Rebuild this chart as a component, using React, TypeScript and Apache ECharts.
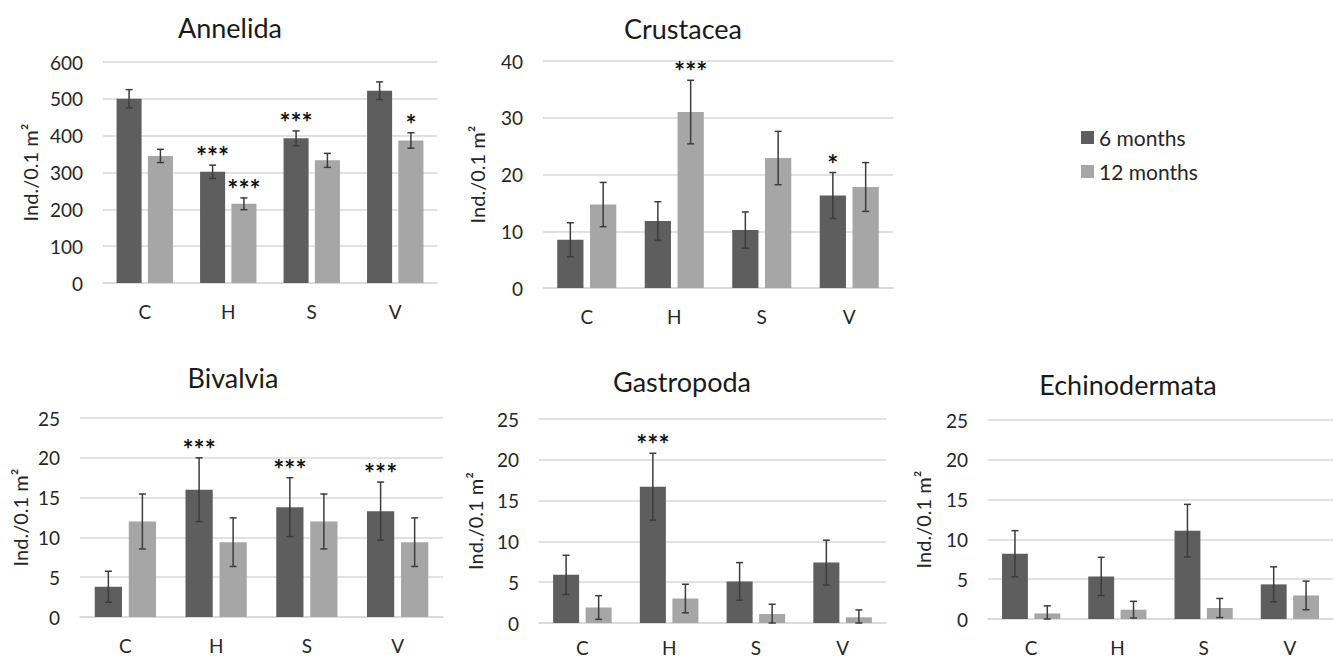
import React, { useEffect, useRef } from "react";
import * as echarts from "echarts";

const categories = ["C", "H", "S", "V"];
const legendNames = ["6 months", "12 months"];

// Annelida
const ann6 = [500, 302, 393, 522];
const ann6Err = [25, 18, 20, 24];
const ann12 = [345, 215, 333, 387];
const ann12Err = [18, 16, 19, 21];
const ann6Stars = ["", "***", "***", ""];
const ann12Stars = ["", "***", "", "*"];

// Crustacea
const cru6 = [8.5, 11.8, 10.2, 16.3];
const cru6Err = [3.0, 3.4, 3.2, 4.05];
const cru12 = [14.7, 31.0, 22.9, 17.8];
const cru12Err = [3.9, 5.6, 4.7, 4.3];
const cru6Stars = ["", "", "", "*"];
const cru12Stars = ["", "***", "", ""];

// Bivalvia
const biv6 = [3.8, 16.0, 13.8, 13.3];
const biv6Err = [1.95, 4.0, 3.7, 3.65];
const biv12 = [12.0, 9.4, 12.0, 9.4];
const biv12Err = [3.45, 3.05, 3.45, 3.05];
const biv6Stars = ["", "***", "***", "***"];
const biv12Stars = ["", "", "", ""];

// Gastropoda
const gas6 = [5.9, 16.7, 5.1, 7.4];
const gas6Err = [2.4, 4.1, 2.3, 2.75];
const gas12 = [1.9, 3.0, 1.1, 0.7];
const gas12Err = [1.45, 1.75, 1.2, 0.9];
const gas6Stars = ["", "***", "", ""];
const gas12Stars = ["", "", "", ""];

// Echinodermata
const ech6 = [8.2, 5.35, 11.1, 4.35];
const ech6Err = [2.9, 2.4, 3.3, 2.2];
const ech12 = [0.7, 1.17, 1.38, 2.96];
const ech12Err = [0.95, 1.05, 1.2, 1.8];
const ech6Stars = ["", "", "", ""];
const ech12Stars = ["", "", "", ""];

const yMax = [600, 40, 25, 25, 25];
const yInterval = [100, 10, 5, 5, 5];
const titles = ["Annelida", "Crustacea", "Bivalvia", "Gastropoda", "Echinodermata"];

const panels = [
  { title: titles[0], v6: ann6, e6: ann6Err, v12: ann12, e12: ann12Err, s6: ann6Stars, s12: ann12Stars },
  { title: titles[1], v6: cru6, e6: cru6Err, v12: cru12, e12: cru12Err, s6: cru6Stars, s12: cru12Stars },
  { title: titles[2], v6: biv6, e6: biv6Err, v12: biv12, e12: biv12Err, s6: biv6Stars, s12: biv12Stars },
  { title: titles[3], v6: gas6, e6: gas6Err, v12: gas12, e12: gas12Err, s6: gas6Stars, s12: gas12Stars },
  { title: titles[4], v6: ech6, e6: ech6Err, v12: ech12, e12: ech12Err, s6: ech6Stars, s12: ech12Stars },
];

// layout (pixels)
const grids = [
  { left: 103, top: 62, width: 334, height: 221 },
  { left: 543, top: 61, width: 350, height: 227 },
  { left: 80, top: 418, width: 363, height: 199 },
  { left: 539, top: 419, width: 347, height: 204 },
  { left: 988, top: 420, width: 345, height: 199 },
];
const titlePos = [
  [230, 27],
  [683, 28],
  [233, 377],
  [682, 381],
  [1128, 384],
];
const nameGaps = [63, 56, 50, 54, 55];
const xLabelMargins = [19, 19, 19, 15, 19];

const FONT = "Lato, 'Open Sans', sans-serif";
const TXT = "#262626";
const DARK = "#5e5e5e";
const LIGHT = "#a6a6a6";
const ERR = "#3c3c3c";
const GRIDC = "#d9d9d9";
const OFFSET = 0.1875;

function makeErrRenderer(sign: number, errs: number[], stars: string[]) {
  return (params: any, api: any) => {
    const ci = api.value(0);
    const v = api.value(1);
    const e = errs[params.dataIndex];
    const band = api.size([1, 0])[0];
    const topP = api.coord([ci, v + e]);
    const botP = api.coord([ci, Math.max(v - e, 0)]);
    const x = topP[0] + sign * band * OFFSET;
    const cap = 3.5;
    const lineStyle = { stroke: ERR, lineWidth: 1.5 };
    const children: any[] = [
      { type: "line", shape: { x1: x, y1: topP[1], x2: x, y2: botP[1] }, style: lineStyle },
      { type: "line", shape: { x1: x - cap, y1: topP[1], x2: x + cap, y2: topP[1] }, style: lineStyle },
      { type: "line", shape: { x1: x - cap, y1: botP[1], x2: x + cap, y2: botP[1] }, style: lineStyle },
    ];
    const s = stars[params.dataIndex];
    if (s) {
      children.push({
        type: "text",
        x: x,
        y: topP[1] - 9,
        style: {
          text: s,
          fill: "#111",
          font: `bold 26px ${FONT}`,
          textAlign: "center",
          textVerticalAlign: "middle",
        },
      });
    }
    return { type: "group", children };
  };
}

export default function App() {
  const ref = useRef<HTMLDivElement>(null);
  useEffect(() => {
    if (!ref.current) return;
    const chart = echarts.init(ref.current, undefined, { renderer: "svg" });
    const xAxis: any[] = [];
    const yAxis: any[] = [];
    const series: any[] = [];
    const graphic: any[] = [];
    panels.forEach((p, i) => {
      xAxis.push({
        type: "category",
        gridIndex: i,
        data: categories,
        axisTick: { show: false },
        axisLine: { lineStyle: { color: GRIDC, width: 1.5 } },
        axisLabel: { color: TXT, fontSize: 19, fontFamily: FONT, margin: xLabelMargins[i] },
      });
      yAxis.push({
        type: "value",
        gridIndex: i,
        min: 0,
        max: yMax[i],
        interval: yInterval[i],
        name: "Ind./0.1 m²",
        nameLocation: "middle",
        nameRotate: 90,
        nameGap: nameGaps[i],
        nameTextStyle: { color: TXT, fontSize: 20, fontFamily: FONT },
        axisLine: { show: false },
        axisTick: { show: false },
        axisLabel: { color: TXT, fontSize: 19, fontFamily: FONT, margin: 20 },
        splitLine: { lineStyle: { color: GRIDC, width: 1.5 } },
      });
      series.push({
        type: "bar",
        name: legendNames[0],
        xAxisIndex: i,
        yAxisIndex: i,
        data: p.v6,
        barWidth: "30%",
        barGap: "25%",
        itemStyle: { color: DARK },
      });
      series.push({
        type: "bar",
        name: legendNames[1],
        xAxisIndex: i,
        yAxisIndex: i,
        data: p.v12,
        barWidth: "30%",
        barGap: "25%",
        itemStyle: { color: LIGHT },
      });
      series.push({
        type: "custom",
        name: "err6_" + i,
        xAxisIndex: i,
        yAxisIndex: i,
        z: 5,
        data: p.v6.map((v, k) => [k, v]),
        encode: { x: 0, y: 1 },
        renderItem: makeErrRenderer(-1, p.e6, p.s6),
      });
      series.push({
        type: "custom",
        name: "err12_" + i,
        xAxisIndex: i,
        yAxisIndex: i,
        z: 5,
        data: p.v12.map((v, k) => [k, v]),
        encode: { x: 0, y: 1 },
        renderItem: makeErrRenderer(1, p.e12, p.s12),
      });
      graphic.push({
        type: "text",
        x: titlePos[i][0],
        y: titlePos[i][1],
        style: {
          text: p.title,
          fill: "#1a1a1a",
          font: `27px ${FONT}`,
          textAlign: "center",
          textVerticalAlign: "middle",
        },
      });
    });
    chart.setOption({
      animation: false,
      backgroundColor: "#ffffff",
      grid: grids.map((g) => ({ ...g, containLabel: false })),
      xAxis,
      yAxis,
      series,
      graphic,
      legend: {
        data: legendNames,
        orient: "vertical",
        left: 1076,
        top: 122,
        itemWidth: 13,
        itemHeight: 13,
        itemGap: 13,
        icon: "rect",
        textStyle: { color: TXT, fontSize: 21, fontFamily: FONT },
      },
    });
    return () => chart.dispose();
  }, []);
  return (
    <div
      ref={ref}
      style={{ position: "absolute", left: 0, top: 0, width: 1334, height: 658 }}
    />
  );
}
